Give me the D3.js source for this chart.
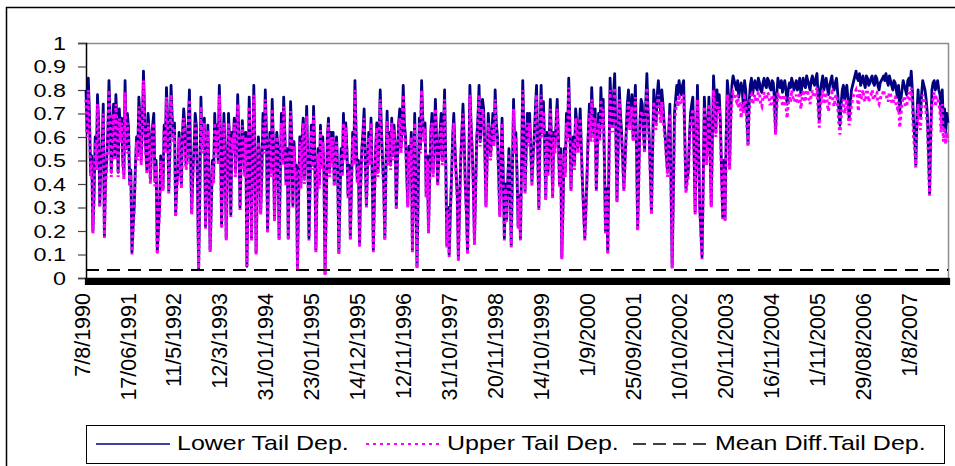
<!DOCTYPE html>
<html>
<head>
<meta charset="utf-8">
<script src="https://cdn.jsdelivr.net/npm/d3@7"></script>
<style>
  body { margin: 0; background: #fff; }
  svg { display: block; font-family: "Liberation Sans", Arial, sans-serif; }
</style>
</head>
<body>
<svg></svg>
<script>
// date labels shown under the axis, one every labelEvery points
const dateLabels = ["7/8/1990", "17/06/1991", "11/5/1992", "12/3/1993", "31/01/1994", "23/01/1995",
  "14/12/1995", "12/11/1996", "31/10/1997", "20/11/1998", "14/10/1999", "1/9/2000", "25/09/2001",
  "10/10/2002", "20/11/2003", "16/11/2004", "1/11/2005", "29/08/2006", "1/8/2007"];
const labelEvery = 20;

const yTicks = [0, 0.1, 0.2, 0.3, 0.4, 0.5, 0.6, 0.7, 0.8, 0.9, 1];

// lower tail dependence
const lowerTail = [
  0.80,0.85,0.45,0.20,0.60,0.78,0.31,0.55,0.18,0.50,0.84,0.45,0.74,0.78,0.45,0.60,0.50,0.84,0.70,0.40,
  0.11,0.31,0.60,0.77,0.50,0.88,0.55,0.70,0.42,0.65,0.41,0.11,0.30,0.45,0.65,0.81,0.37,0.82,0.60,0.27,
  0.45,0.50,0.62,0.65,0.50,0.80,0.28,0.55,0.65,0.04,0.77,0.60,0.22,0.65,
  0.12,0.50,0.70,0.65,0.82,0.22,0.70,0.17,0.70,0.27,0.55,0.45,0.78,0.30,0.67,0.45,0.05,0.77,0.17,0.82,
  0.11,0.60,0.28,0.70,0.80,0.20,0.62,0.76,0.25,0.62,0.17,0.70,0.77,0.41,0.17,0.75,0.31,0.45,0.04,0.60,
  0.60,0.42,0.73,0.17,0.65,0.73,0.12,0.55,0.65,0.60,0.02,0.60,0.45,
  0.50,0.40,0.60,0.11,0.55,0.70,0.66,0.35,0.17,0.62,0.84,0.42,0.14,0.55,0.72,0.31,0.62,0.68,0.12,0.55,
  0.45,0.80,0.50,0.17,0.71,0.62,0.68,0.65,0.30,0.66,0.55,0.82,0.60,0.31,0.45,0.12,0.70,0.05,0.68,0.84,
  0.60,0.35,0.20,0.62,0.45,0.76,0.40,0.62,0.50,0.80,0.14,0.10,0.42,0.70,
  0.45,0.08,0.50,0.74,0.40,0.11,0.82,0.55,0.15,0.60,0.82,0.65,0.72,0.31,0.70,0.52,0.70,0.80,0.60,0.27,
  0.68,0.17,0.25,0.55,0.14,0.76,0.62,0.22,0.17,0.84,0.37,0.70,0.70,0.41,0.60,0.82,0.30,0.82,0.75,0.34,
  0.45,0.76,0.35,0.55,0.76,0.40,0.09,0.55,0.70,0.85,0.38,0.60,0.72,
  0.55,0.72,0.40,0.17,0.45,0.74,0.81,0.60,0.38,0.70,0.81,0.76,0.20,0.11,0.85,0.65,0.87,0.33,0.81,0.62,
  0.38,0.62,0.80,0.72,0.60,0.82,0.21,0.67,0.74,0.55,0.87,0.60,0.28,0.80,0.66,0.84,0.70,0.74,0.60,0.45,
  0.74,0.05,0.70,0.82,0.84,0.78,0.84,0.38,0.45,0.70,0.77,0.28,0.82,0.30,0.09,
  0.77,0.50,0.77,0.31,0.86,0.62,0.72,0.66,0.26,0.25,0.84,0.48,0.82,0.84,0.80,0.77,0.83,0.72,0.80,0.57,
  0.82,0.78,0.84,0.80,0.83,0.79,0.85,0.81,0.84,0.80,0.83,0.62,0.85,0.81,0.79,0.84,0.74,0.83,0.85,0.80,
  0.84,0.82,0.78,0.85,0.81,0.84,0.80,0.86,0.82,0.87,0.67,0.83,0.80,0.85,0.78,0.84,0.81,0.83,0.79,0.65,
  0.80,0.76,0.82,0.68,0.80,0.84,0.88,0.84,0.82,0.86,0.81,0.85,0.83,0.86,0.82,0.85,0.80,0.84,0.86,0.87,
  0.82,0.84,0.80,0.83,0.77,0.71,0.80,0.82,0.78,0.85,0.88,0.67,0.48,0.80,0.68,0.84,0.80,0.70,0.36,0.80,
  0.84,0.82,0.80,0.69,0.65,0.62,0.66
];

// readings taken half way between the points above
const lowerTailMid = [
  0.62,0.70,0.52,0.35,0.48,0.66,0.50,0.74,0.42,0.62,0.68,0.60,0.52,0.66,0.72,0.68,0.44,0.55,0.64,0.46,
  0.22,0.48,0.52,0.68,0.64,0.70,0.46,0.62,0.55,0.70,0.50,0.20,0.52,0.38,0.55,0.68,0.55,0.68,0.66,0.40,
  0.62,0.40,0.72,0.48,0.66,0.52,0.45,0.70,0.40,0.35,0.55,0.68,0.40,0.45,
  0.30,0.42,0.55,0.50,0.60,0.48,0.52,0.45,0.58,0.62,0.68,0.58,0.60,0.50,0.58,0.62,0.40,0.55,0.50,0.55,
  0.38,0.52,0.45,0.55,0.62,0.48,0.45,0.58,0.50,0.55,0.42,0.50,0.62,0.55,0.48,0.60,0.58,0.48,0.35,0.40,
  0.68,0.55,0.50,0.42,0.48,0.55,0.38,0.40,0.48,0.45,0.30,0.68,0.62,
  0.62,0.52,0.45,0.35,0.45,0.52,0.55,0.48,0.40,0.50,0.62,0.50,0.40,0.62,0.50,0.48,0.50,0.45,0.35,0.66,
  0.60,0.64,0.40,0.48,0.50,0.48,0.52,0.56,0.50,0.72,0.62,0.66,0.45,0.56,0.62,0.42,0.38,0.35,0.55,0.68,
  0.66,0.52,0.42,0.70,0.58,0.60,0.52,0.70,0.62,0.50,0.30,0.28,0.60,0.56,0.35,0.30,0.62,0.60,0.28,0.45,
  0.66,0.40,0.38,0.68,0.58,0.76,0.55,0.50,0.62,0.60,0.58,0.66,0.45,0.50,0.45,0.40,0.42,0.38,0.45,0.55,
  0.45,0.35,0.50,0.62,0.55,0.58,0.55,0.52,0.72,0.55,0.60,0.62,0.58,0.62,0.60,0.58,0.62,0.66,0.60,0.55,
  0.30,0.45,0.60,0.66,0.55,0.48,0.66,0.62,0.55,0.28,0.30,0.62,0.60,0.68,0.72,0.55,0.60,0.66,0.52,0.38,
  0.50,0.72,0.78,0.62,0.55,0.70,0.50,0.50,0.74,0.66,0.78,0.70,0.55,0.45,0.76,0.62,0.74,0.72,0.45,0.55,
  0.72,0.78,0.76,0.80,0.66,0.52,0.62,0.40,0.35,0.76,0.78,0.80,0.82,0.60,0.42,0.60,0.74,0.55,0.55,0.58,0.20,0.40,
  0.66,0.62,0.55,0.60,0.76,0.80,0.78,0.45,0.50,0.60,0.78,0.70,0.86,0.82,0.84,0.81,0.80,0.84,0.70,0.75,
  0.85,0.82,0.81,0.85,0.80,0.83,0.82,0.85,0.81,0.84,0.76,0.78,0.82,0.84,0.82,0.80,0.80,0.81,0.83,0.82,
  0.80,0.85,0.82,0.82,0.86,0.82,0.84,0.83,0.85,0.78,0.80,0.86,0.83,0.81,0.82,0.86,0.80,0.85,0.72,0.74,
  0.82,0.80,0.76,0.74,0.82,0.86,0.85,0.87,0.84,0.83,0.86,0.82,0.85,0.83,0.86,0.82,0.83,0.85,0.84,0.84,
  0.86,0.82,0.84,0.80,0.82,0.76,0.84,0.80,0.84,0.82,0.80,0.60,0.70,0.72,0.78,0.82,0.76,0.55,0.62,0.83,
  0.80,0.84,0.78,0.80,0.72,0.70
];

// upper tail dependence
const upperTail = [
  0.76,0.80,0.43,0.19,0.58,0.74,0.30,0.53,0.17,0.48,0.80,0.43,0.70,0.74,0.43,0.58,0.48,0.79,0.66,0.39,
  0.10,0.30,0.58,0.73,0.48,0.84,0.53,0.66,0.40,0.63,0.39,0.10,0.29,0.43,0.63,0.77,0.36,0.78,0.58,0.26,
  0.43,0.48,0.60,0.63,0.48,0.76,0.27,0.53,0.63,0.04,0.73,0.58,0.21,0.63,
  0.11,0.48,0.66,0.63,0.78,0.21,0.66,0.16,0.66,0.26,0.53,0.43,0.74,0.29,0.65,0.43,0.05,0.73,0.16,0.78,
  0.10,0.58,0.27,0.66,0.76,0.19,0.60,0.72,0.24,0.60,0.16,0.66,0.73,0.39,0.16,0.71,0.30,0.43,0.03,0.58,
  0.58,0.40,0.69,0.16,0.63,0.69,0.11,0.53,0.63,0.58,0.01,0.58,0.43,
  0.48,0.39,0.58,0.10,0.53,0.66,0.64,0.34,0.16,0.60,0.80,0.40,0.13,0.53,0.68,0.30,0.60,0.66,0.11,0.53,
  0.43,0.76,0.48,0.16,0.67,0.60,0.66,0.63,0.29,0.64,0.53,0.78,0.58,0.30,0.43,0.11,0.66,0.04,0.66,0.80,
  0.58,0.34,0.19,0.60,0.43,0.72,0.39,0.60,0.48,0.76,0.13,0.09,0.40,0.66,
  0.43,0.07,0.48,0.70,0.39,0.10,0.78,0.53,0.14,0.58,0.78,0.63,0.68,0.30,0.66,0.50,0.66,0.76,0.58,0.26,
  0.66,0.16,0.24,0.53,0.13,0.72,0.60,0.21,0.16,0.80,0.36,0.66,0.66,0.39,0.58,0.78,0.29,0.78,0.71,0.33,
  0.43,0.72,0.34,0.53,0.72,0.39,0.08,0.53,0.66,0.81,0.37,0.58,0.68,
  0.53,0.68,0.39,0.16,0.43,0.70,0.76,0.58,0.37,0.66,0.76,0.72,0.19,0.10,0.80,0.62,0.81,0.32,0.76,0.60,
  0.37,0.60,0.75,0.68,0.58,0.77,0.20,0.64,0.70,0.53,0.81,0.58,0.27,0.75,0.63,0.78,0.66,0.70,0.58,0.43,
  0.70,0.04,0.66,0.76,0.78,0.74,0.78,0.36,0.43,0.66,0.72,0.27,0.76,0.29,0.08,
  0.73,0.48,0.74,0.30,0.80,0.60,0.70,0.62,0.25,0.24,0.78,0.46,0.76,0.78,0.75,0.72,0.68,0.70,0.76,0.56,
  0.77,0.74,0.78,0.75,0.79,0.73,0.79,0.76,0.78,0.74,0.77,0.61,0.79,0.76,0.73,0.78,0.68,0.77,0.80,0.75,
  0.78,0.76,0.72,0.80,0.76,0.79,0.74,0.80,0.77,0.81,0.64,0.77,0.74,0.79,0.71,0.78,0.75,0.77,0.73,0.61,
  0.74,0.70,0.76,0.65,0.74,0.78,0.80,0.71,0.76,0.80,0.75,0.79,0.77,0.80,0.76,0.79,0.74,0.78,0.80,0.77,
  0.75,0.78,0.74,0.77,0.72,0.64,0.74,0.77,0.73,0.79,0.81,0.60,0.47,0.74,0.63,0.78,0.75,0.66,0.35,0.75,
  0.79,0.77,0.74,0.62,0.58,0.57,0.58
];

const upperTailMid = [
  0.60,0.66,0.50,0.34,0.46,0.64,0.48,0.70,0.40,0.60,0.66,0.58,0.50,0.64,0.68,0.66,0.42,0.53,0.62,0.44,
  0.21,0.46,0.50,0.66,0.62,0.66,0.44,0.60,0.53,0.66,0.48,0.19,0.50,0.37,0.53,0.66,0.53,0.66,0.64,0.38,
  0.60,0.38,0.68,0.46,0.64,0.50,0.43,0.66,0.38,0.34,0.53,0.66,0.38,0.43,
  0.29,0.40,0.53,0.48,0.58,0.46,0.50,0.43,0.56,0.60,0.66,0.56,0.58,0.48,0.56,0.60,0.38,0.53,0.48,0.53,
  0.37,0.50,0.43,0.53,0.60,0.46,0.43,0.56,0.48,0.53,0.40,0.48,0.60,0.53,0.46,0.58,0.56,0.46,0.34,0.38,
  0.66,0.53,0.48,0.40,0.46,0.53,0.37,0.38,0.46,0.43,0.29,0.66,0.60,
  0.60,0.50,0.43,0.34,0.43,0.50,0.53,0.46,0.38,0.48,0.60,0.48,0.38,0.60,0.48,0.46,0.48,0.43,0.34,0.64,
  0.58,0.62,0.38,0.46,0.48,0.46,0.50,0.54,0.48,0.68,0.60,0.64,0.43,0.54,0.60,0.40,0.37,0.34,0.53,0.66,
  0.64,0.50,0.40,0.66,0.56,0.58,0.50,0.66,0.60,0.48,0.29,0.27,0.58,0.54,0.34,0.29,0.60,0.58,0.27,0.43,
  0.64,0.38,0.37,0.66,0.56,0.72,0.53,0.48,0.60,0.58,0.56,0.64,0.43,0.48,0.43,0.38,0.40,0.37,0.43,0.53,
  0.43,0.34,0.48,0.60,0.53,0.56,0.53,0.50,0.68,0.53,0.58,0.60,0.56,0.60,0.58,0.56,0.60,0.64,0.58,0.53,
  0.29,0.43,0.58,0.63,0.53,0.46,0.63,0.60,0.53,0.27,0.29,0.60,0.58,0.65,0.68,0.53,0.58,0.63,0.50,0.37,
  0.48,0.67,0.73,0.60,0.53,0.66,0.48,0.48,0.69,0.63,0.73,0.66,0.53,0.43,0.71,0.60,0.69,0.67,0.43,0.53,
  0.67,0.73,0.71,0.75,0.63,0.50,0.60,0.38,0.34,0.71,0.73,0.75,0.77,0.58,0.40,0.58,0.69,0.53,0.53,0.56,0.19,0.38,
  0.62,0.58,0.52,0.57,0.71,0.75,0.73,0.43,0.47,0.57,0.73,0.66,0.79,0.76,0.78,0.75,0.74,0.77,0.64,0.70,
  0.78,0.76,0.75,0.79,0.74,0.77,0.76,0.79,0.74,0.78,0.70,0.72,0.76,0.78,0.75,0.73,0.74,0.75,0.77,0.76,
  0.74,0.79,0.76,0.75,0.80,0.76,0.78,0.77,0.79,0.72,0.73,0.80,0.77,0.74,0.76,0.79,0.73,0.78,0.66,0.68,
  0.76,0.73,0.70,0.68,0.76,0.79,0.78,0.80,0.77,0.76,0.79,0.75,0.78,0.76,0.79,0.75,0.76,0.78,0.77,0.77,
  0.79,0.75,0.77,0.73,0.75,0.69,0.77,0.73,0.77,0.75,0.74,0.55,0.64,0.66,0.72,0.76,0.70,0.50,0.57,0.76,
  0.73,0.77,0.71,0.74,0.64,0.62
];

const meanDiff = 0.034; // mean difference, drawn as a flat dashed line

// put the half-way readings back between the points: [p0, m0, p1, m1, ...]
function weave(points, mids) {
  const out = [];
  points.forEach((v, i) => {
    out.push(v);
    if (i < mids.length) out.push(mids[i]);
  });
  return out;
}

const lowerSeries = weave(lowerTail, lowerTailMid);
const upperSeries = weave(upperTail, upperTailMid);

const svg = d3.select("svg")
  .attr("width", 955)
  .attr("height", 466);

const x = d3.scaleLinear()
  .domain([0, lowerTail.length - 1])
  .range([86, 948]);

const y = d3.scaleLinear()
  .domain([0, 1])
  .range([278, 43]);

// outer chart frame (runs off the right and bottom of the window)
svg.append("rect")
  .attr("x", 6.5).attr("y", 7.5)
  .attr("width", 960).attr("height", 470)
  .attr("fill", "none")
  .attr("stroke", "#000")
  .attr("stroke-width", 1.5);

// plot area border, grey top and right
svg.append("path")
  .attr("d", `M${x.range()[0]},${y(1) + 0.5}H${x.range()[1] + 0.5}V${y(0)}`)
  .attr("fill", "none")
  .attr("stroke", "#8c8c8c")
  .attr("stroke-width", 1.5);

// y axis
const yAxis = svg.append("g")
  .attr("transform", `translate(${x.range()[0]},0)`)
  .call(d3.axisLeft(y).tickValues(yTicks).tickSize(8).tickPadding(0).tickFormat(d => String(d)));

yAxis.select(".domain").attr("stroke", "#000").attr("stroke-width", 1.5);
yAxis.selectAll(".tick line").attr("stroke", "#444").attr("stroke-width", 1.2);
yAxis.selectAll(".tick text")
  .attr("x", -20 / 1.3)
  .attr("dy", "0.36em")
  .attr("transform", "scale(1.3,1)")
  .style("font-family", '"Liberation Sans", Arial, sans-serif')
  .style("font-size", "18px")
  .attr("fill", "#000");

// x axis: one tick per point, so the ticks merge into a solid black band
const xAxis = svg.append("g")
  .attr("transform", `translate(0,${y(0)})`)
  .call(d3.axisBottom(x).tickValues(d3.range(lowerTail.length)).tickSize(7).tickFormat(""));

xAxis.select(".domain").attr("stroke", "#000").attr("stroke-width", 1.5);
xAxis.selectAll(".tick line").attr("stroke", "#000").attr("stroke-width", 3.2);

// date labels, rotated
svg.append("g")
  .selectAll("text.date")
  .data(dateLabels)
  .enter()
  .append("text")
  .attr("class", "date")
  .attr("transform", (d, i) => `translate(${x(i * labelEvery) - 4},293) rotate(-90)`)
  .attr("dy", "0.35em")
  .attr("text-anchor", "end")
  .style("font-size", "21.5px")
  .text(d => d);

// the three lines (woven series has two readings per point step)
const lineGenerator = d3.line()
  .x((d, i) => x(i / 2))
  .y(d => y(d));

svg.append("path")
  .datum(lowerSeries)
  .attr("d", lineGenerator)
  .attr("fill", "none")
  .attr("stroke", "#000080")
  .attr("stroke-width", 2.8)
  .attr("stroke-linejoin", "round");

svg.append("path")
  .datum(upperSeries)
  .attr("d", lineGenerator)
  .attr("fill", "none")
  .attr("stroke", "#ff00ff")
  .attr("stroke-width", 3)
  .attr("stroke-dasharray", "3,3");

svg.append("line")
  .attr("x1", x(0)).attr("x2", x(lowerTail.length - 1))
  .attr("y1", y(meanDiff)).attr("y2", y(meanDiff))
  .attr("stroke", "#000")
  .attr("stroke-width", 2)
  .attr("stroke-dasharray", "13,8");

// legend
const legendItems = [
  {name: "Lower Tail Dep.", color: "#000080", dash: null, width: 1.5, x1: 96, x2: 170, tx: 177},
  {name: "Upper Tail Dep.", color: "#ff00ff", dash: "3,4", width: 2, x1: 366, x2: 440, tx: 447},
  {name: "Mean Diff.Tail Dep.", color: "#000", dash: "13,7", width: 1.5, x1: 633, x2: 710, tx: 715}
];

svg.append("rect")
  .attr("x", 86.5).attr("y", 425.5)
  .attr("width", 858).attr("height", 38)
  .attr("fill", "#fff")
  .attr("stroke", "#000")
  .attr("stroke-width", 1);

const legend = svg.selectAll("g.legend-item")
  .data(legendItems)
  .enter()
  .append("g")
  .attr("class", "legend-item");

legend.append("line")
  .attr("x1", d => d.x1).attr("x2", d => d.x2)
  .attr("y1", 444).attr("y2", 444)
  .attr("stroke", d => d.color)
  .attr("stroke-width", d => d.width)
  .attr("stroke-dasharray", d => d.dash);

legend.append("text")
  .attr("transform", d => `translate(${d.tx},450) scale(1.19,1)`)
  .style("font-size", "21px")
  .text(d => d.name);
</script>
</body>
</html>
